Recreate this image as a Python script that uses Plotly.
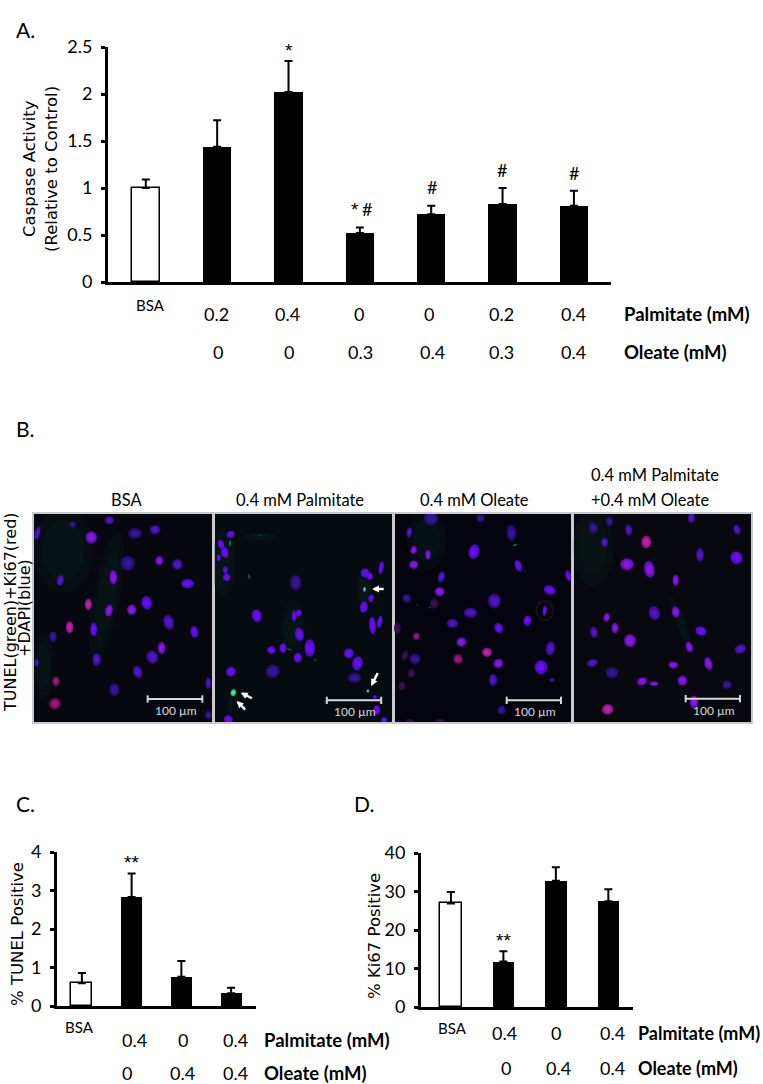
import math
import plotly.graph_objects as go

W, H = 763, 1084
NARROW = "Lato, Carlito, sans-serif"
WIDE = "DejaVu Sans, Verdana, sans-serif"
STAR = "Liberation Sans, Arial, sans-serif"

# ---------- data: panel A ----------
a_categories = ["BSA", "P0.2", "P0.4", "O0.3", "O0.4", "P0.2+O0.3", "P0.4+O0.4"]
a_values = [1.0, 1.44, 2.02, 0.52, 0.72, 0.83, 0.81]
a_err_top = [1.09, 1.72, 2.35, 0.58, 0.81, 1.0, 0.97]
a_palmitate = ["0.2", "0.4", "0", "0", "0.2", "0.4"]
a_oleate = ["0", "0", "0.3", "0.4", "0.3", "0.4"]
a_ticks = [0, 0.5, 1, 1.5, 2, 2.5]
a_ticktext = ["0", "0.5", "1", "1.5", "2", "2.5"]

# ---------- data: panel C ----------
c_categories = ["BSA", "P0.4", "O0.4", "P0.4+O0.4"]
c_values = [0.59, 2.83, 0.76, 0.33]
c_err_top = [0.86, 3.44, 1.17, 0.475]
c_palmitate = ["0.4", "0", "0.4"]
c_oleate = ["0", "0.4", "0.4"]
c_ticks = [0, 1, 2, 3, 4]

# ---------- data: panel D ----------
d_categories = ["BSA", "P0.4", "O0.4", "P0.4+O0.4"]
d_values = [26.9, 11.8, 32.8, 27.5]
d_err_top = [29.9, 14.5, 36.3, 30.6]
d_palmitate = ["0.4", "0", "0.4"]
d_oleate = ["0", "0.4", "0.4"]
d_ticks = [0, 10, 20, 30, 40]

# ---------- data: panel B nuclei (x, y, rx, ry, tilt, shade) ----------
nuclei_1 = [
    (22,70,8,20,15,"d"),(128,43,10,9,0,"k"),(238,31,13,11,0,"d"),(184,82,16,17,0,"p"),(315,70,19,15,0,"k"),
    (375,59,15,13,0,"d"),(293,160,20,21,0,"k"),(388,152,11,13,0,"p"),(442,163,15,15,0,"d"),(473,221,18,13,0,"v"),
    (91,211,10,16,15,"d"),(250,202,11,20,0,"p"),(175,283,10,16,0,"m"),(237,302,11,17,10,"p"),(305,299,13,15,0,"p"),
    (350,278,15,19,-10,"v"),(416,337,15,22,-15,"d"),(493,366,11,17,-10,"v"),(119,352,11,17,0,"m"),(191,358,10,19,0,"v"),
    (69,380,11,15,0,"k"),(395,414,11,17,0,"p"),(367,441,16,19,-25,"d"),(200,449,12,18,0,"d"),(20,458,6,12,0,"d"),
    (323,486,13,18,-20,"d"),(78,514,11,14,0,"r"),(253,539,14,18,0,"k"),(75,581,17,16,-20,"r"),(535,520,8,16,0,"d"),
    (535,615,10,12,0,"k"),
]
nuclei_2 = [
    (62,73,12,10,-20,"v"),(33,103,9,14,-20,"v"),(44,127,11,16,-15,"v"),(26,143,6,10,0,"v"),(46,180,7,10,0,"v"),
    (50,202,11,11,0,"v"),(257,218,16,22,0,"k"),(465,189,13,13,0,"v"),(479,199,9,11,0,"v"),(513,173,7,19,10,"v"),
    (483,265,8,11,15,"v"),(461,291,11,17,10,"v"),(140,317,14,18,-15,"v"),(252,318,7,16,0,"v"),(266,309,9,10,0,"v"),
    (487,346,10,25,-5,"v"),(509,335,7,18,10,"v"),(268,373,13,19,-10,"v"),(184,420,12,11,0,"v"),(219,414,10,14,0,"v"),
    (299,414,15,25,0,"v"),(263,443,12,14,0,"v"),(416,430,14,14,0,"v"),(442,460,15,20,10,"v"),(188,484,20,19,-30,"k"),
    (63,485,14,14,0,"v"),(433,504,19,14,0,"k"),(494,561,6,6,0,"v"),(500,600,10,14,0,"v"),(55,628,13,12,0,"v"),
    (522,630,9,8,0,"v"),
]
nuclei_3 = [
    (123,25,20,20,0,"k"),(272,25,12,12,0,"k"),(58,67,8,15,10,"d"),(364,68,14,22,-5,"k"),(71,120,9,12,15,"p"),
    (114,134,8,14,0,"p"),(252,125,15,21,15,"v"),(71,164,13,12,0,"p"),(385,167,10,17,-20,"v"),(154,201,10,16,15,"d"),
    (535,197,8,16,-15,"v"),(149,245,14,13,0,"p"),(479,240,17,13,20,"v"),(50,265,12,12,0,"k"),(313,273,18,20,0,"d"),
    (133,280,12,15,0,"x"),(241,308,19,14,0,"d"),(464,302,6,15,5,"v"),(412,332,11,15,10,"v"),(187,340,16,13,0,"d"),
    (326,354,12,15,-20,"v"),(22,355,10,17,0,"x"),(79,379,10,11,0,"r"),(214,396,14,13,0,"p"),(481,415,13,20,5,"d"),
    (291,427,14,13,0,"m"),(45,437,8,15,15,"x"),(75,447,16,15,0,"k"),(204,447,14,14,0,"r"),(325,460,14,13,-20,"p"),
    (453,472,18,20,0,"v"),(64,490,11,13,15,"x"),(309,510,12,17,0,"d"),(486,510,8,5,0,"d"),(36,528,11,13,0,"x"),
    (335,600,12,13,0,"k"),(60,632,12,5,0,"x"),(150,632,12,5,0,"x"),
]
nuclei_4 = [
    (70,54,13,16,-20,"k"),(118,34,10,14,0,"k"),(176,60,10,16,-5,"d"),(104,97,10,13,0,"d"),(364,24,10,14,10,"d"),
    (229,96,14,18,0,"m"),(501,59,10,15,-15,"d"),(390,134,11,19,0,"d"),(499,143,17,18,-15,"v"),(171,163,19,17,0,"p"),
    (238,178,15,24,-10,"p"),(317,211,9,16,0,"p"),(2,197,5,14,0,"p"),(253,309,16,20,-15,"d"),(317,306,11,16,-10,"p"),
    (110,322,9,13,10,"p"),(135,354,10,15,0,"p"),(72,367,11,16,-10,"d"),(180,392,17,18,0,"p"),(393,363,16,13,20,"v"),
    (358,411,10,16,-15,"p"),(511,417,17,13,-30,"d"),(67,459,16,11,-20,"d"),(415,461,11,19,-15,"p"),(310,465,14,10,0,"p"),
    (126,488,17,16,0,"k"),(216,514,15,11,-20,"p"),(252,521,13,7,0,"p"),(337,512,14,14,-20,"p"),(471,524,14,12,0,"k"),
    (372,576,12,18,0,"p"),(113,598,16,15,0,"m"),
]
tunel_2 = [  # green TUNEL signal in the palmitate field
    (70,548,8,10,15,"g"),(463,238,4,7,0,"c"),(473,543,4,5,0,"c"),(117,200,2,9,-10,"e"),(60,100,3,10,0,"e"),
    (150,75,10,1,0,"e"),(238,418,8,2,15,"e"),(315,450,2,4,0,"e"),
]
tunel_3 = [(80,284,2,2,0,"e"),(120,293,3,2,0,"e"),(375,105,8,3,-20,"e"),(407,185,2,2,0,"e")]
glow_1 = [(100,120,90,130,0),(230,260,40,200,10),(40,470,30,100,0)]
glow_2 = [(40,160,35,100,0),(60,590,8,40,5),(463,240,22,60,0),(250,350,35,80,0),(150,80,50,14,0)]
glow_3 = [(110,90,60,90,0)]
glow_4 = [(70,110,60,120,0),(330,330,15,80,-20)]
panel_nuclei = [nuclei_1, nuclei_2 + tunel_2, nuclei_3 + tunel_3, nuclei_4]
panel_glow = [glow_1, glow_2, glow_3, glow_4]
panel_titles = ["BSA", "0.4 mM Palmitate", "0.4 mM Oleate", "+0.4 mM Oleate"]
scale_text = "100 µm"

# ---------- styles and layout ----------
SHADES = {"v":"#5a0ce0","p":"#7210cf","m":"#9c1aa0","d":"#4010a8","k":"#2c1080","r":"#701068","x":"#2e1048",
          "g":"#10e080","c":"#18c8d0","e":"#0f6a30"}
CORES = {"v":"#7210ff","p":"#9a18f0","m":"#e0209c","d":"#5a18d8","k":"#3c18a8","r":"#c01878","x":"#481060",
         "g":"#50ffb0","c":"#60f0f0","e":"#128a40"}
PANEL_BG = ["#07080f", "#060b10", "#04040e", "#08080f"]

# pixel frame of each item: left, right, top, bottom
FRAME_A = (108, 611, 47, 282)
FRAME_C = (57, 256, 852, 1006)
FRAME_D = (421, 633, 853, 1007)
IMG = [(34,213,514,722,12,549),(214,392.5,514,722,12,547),(394,572,514,722,12,546),(573,751,514,722,9,543)]
SCALE = [(353,517,567,438,600),(350,513,571,435,603),(350,513,571,435,603),(347,510,566,432,600)]

fig = go.Figure()
ann = []
layout = {}
shapes = []


def px(x):
    return x / W


def py(y):
    return 1 - y / H


def text(s, x, y, size=17, anchor="center", font=NARROW, bold=False, angle=0, color="black"):
    ann.append(dict(text=f"<b>{s}</b>" if bold else s, x=px(x), y=py(y), xref="paper", yref="paper",
                    showarrow=False, xanchor=anchor, yanchor="middle", textangle=angle,
                    font=dict(family=font, size=size, color=color)))


def bar_panel(idx, frame, cats, vals, err_top, ticks, ticktext, halfspan, bar_w, err_w):
    name = "" if idx == 1 else str(idx)
    colors = ["white"] + ["black"] * (len(cats) - 1)
    widths = [1.5] + [0] * (len(cats) - 1)
    fig.add_trace(go.Bar(
        x=cats, y=vals, width=bar_w, xaxis=f"x{name}", yaxis=f"y{name}",
        marker=dict(color=colors, line=dict(color="black", width=widths)),
        error_y=dict(type="data", symmetric=False, array=[t - v for t, v in zip(err_top, vals)],
                     arrayminus=[0] * len(vals), color="black", thickness=2, width=err_w),
        hoverinfo="skip", showlegend=False))
    l, r, t, b = frame
    layout[f"xaxis{name}"] = dict(domain=[px(l), px(r)], anchor=f"y{name}", type="category", automargin=False,
                                  categoryorder="array", categoryarray=cats, range=halfspan,
                                  showgrid=False, showticklabels=False, ticks="", zeroline=False,
                                  showline=True, linecolor="black", linewidth=3, layer="above traces")
    layout[f"yaxis{name}"] = dict(domain=[py(b), py(t)], anchor=f"x{name}", range=[ticks[0], ticks[-1]], automargin=False,
                                  tickvals=ticks, ticktext=ticktext, showgrid=False, zeroline=False,
                                  showline=True, linecolor="black", linewidth=3, ticks="outside",
                                  ticklen=4, tickwidth=3, tickcolor="black", layer="above traces",
                                  ticklabelstandoff=5,
                                  tickfont=dict(family=NARROW, size=18, color="black"))


def row_labels(axis, cats, labels, y, shifts, size=18):
    for c, lab, sh in zip(cats, labels, shifts):
        ann.append(dict(text=lab, x=c, y=py(y), xref=axis, yref="paper", showarrow=False, xshift=sh,
                        xanchor="center", yanchor="middle", font=dict(family=NARROW, size=size, color="black")))


def mark(axis, cat, y, s, shift=0, size=18, font=NARROW):
    ann.append(dict(text=s, x=cat, y=py(y), xref=axis, yref="paper", showarrow=False, xshift=shift,
                    xanchor="center", yanchor="middle", font=dict(family=font, size=size, color="black")))


def ellipse(x, y, rx, ry, tilt, scale=1.0, n=28):
    a = math.radians(tilt)
    xs, ys = [], []
    for i in range(n + 1):
        th = 2 * math.pi * i / n
        ex, ey = scale * rx * math.cos(th), scale * ry * math.sin(th)
        xs.append(x + ex * math.cos(a) - ey * math.sin(a))
        ys.append(y + ex * math.sin(a) + ey * math.cos(a))
    return xs, ys


def blobs(items, xa, ya, color, scale=1.0, opacity=1.0):
    xs, ys = [], []
    for it in items:
        ex, ey = ellipse(it[0], it[1], it[2], it[3], it[4], scale)
        xs += ex + [None]
        ys += ey + [None]
    fig.add_trace(go.Scatter(x=xs, y=ys, xaxis=xa, yaxis=ya, mode="lines", fill="toself", fillcolor=color,
                             line=dict(width=0), opacity=opacity, hoverinfo="skip", showlegend=False))


# ---------- panel A ----------
bar_panel(1, FRAME_A, a_categories, a_values, a_err_top, a_ticks, a_ticktext, [-0.53, 6.52], 0.4, 4)
row_labels("x", a_categories[1:], a_palmitate, 314, [-1, -1, -1, -2, -1, 0])
row_labels("x", a_categories[1:], a_oleate, 352, [1, 0, 1, 1, -1, 0])
mark("x", "BSA", 305, "BSA", 5, 15)
mark("x", "P0.4", 50, "*", 0, 19, STAR)
mark("x", "O0.3", 209, "*", -5, 19, STAR)
mark("x", "O0.3", 209, "#", 7)
mark("x", "O0.4", 187, "#", 1)
mark("x", "P0.2+O0.3", 170, "#", -1)
mark("x", "P0.4+O0.4", 173, "#")
text("Palmitate (mM)", 622, 314, 18.5, bold=True, anchor="left")
text("Oleate (mM)", 622, 352, 18.5, bold=True, anchor="left")
text("Caspase Activity", 29, 169, 16.5, font=WIDE, angle=-90)
text("(Relative to Control)", 51, 169, 16.5, font=WIDE, angle=-90)
text("A.", 14, 30, 21, "left")

# ---------- panel C ----------
bar_panel(2, FRAME_C, c_categories, c_values, c_err_top, c_ticks, [str(t) for t in c_ticks], [-0.5, 3.5], 0.42, 4)
row_labels("x2", c_categories[1:], c_palmitate, 1040, [3, 2, 4])
row_labels("x2", c_categories[1:], c_oleate, 1073, [-5, 1, 4])
mark("x2", "BSA", 1027, "BSA", -2, 15)
mark("x2", "P0.4", 862, "**", 0, 19, STAR)
text("Palmitate (mM)", 262, 1040, 18.5, bold=True, anchor="left")
text("Oleate (mM)", 262, 1073, 18.5, bold=True, anchor="left")
text("% TUNEL Positive", 17, 934, 16.5, font=WIDE, angle=-90)
text("C.", 14, 803, 21, "left")

# ---------- panel D ----------
bar_panel(3, FRAME_D, d_categories, d_values, d_err_top, d_ticks, [str(t) for t in d_ticks], [-0.57, 3.47], 0.41, 4)
row_labels("x3", d_categories[1:], d_palmitate, 1033, [1, 0, 4])
row_labels("x3", d_categories[1:], d_oleate, 1068, [3, 3, 4])
mark("x3", "BSA", 1028, "BSA", 2, 15)
mark("x3", "P0.4", 940, "**", 0, 19, STAR)
text("Palmitate (mM)", 636, 1033, 18, bold=True, anchor="left")
text("Oleate (mM)", 636, 1068, 18, bold=True, anchor="left")
text("% Ki67 Positive", 374, 936, 16.5, font=WIDE, angle=-90)
text("D.", 352, 803, 21, "left")

# ---------- panel B ----------
for i, (frame, nuc, glow, sc) in enumerate(zip(IMG, panel_nuclei, panel_glow, SCALE)):
    n = i + 4
    xa, ya = f"x{n}", f"y{n}"
    l, r, t, b, z0, z1 = frame
    layout[f"xaxis{n}"] = dict(domain=[px(l), px(r)], anchor=ya, range=[z0, z1], visible=True, showgrid=False, automargin=False,
                               zeroline=False, showticklabels=False, ticks="", showline=True, mirror=True,
                               linecolor="#c9c9c9", linewidth=1.5, layer="above traces")
    layout[f"yaxis{n}"] = dict(domain=[py(b), py(t)], anchor=xa, range=[636, 12], showgrid=False, automargin=False,
                               zeroline=False, showticklabels=False, ticks="", showline=True, mirror=True,
                               linecolor="#c9c9c9", linewidth=1.5, layer="above traces")
    shapes.append(dict(type="rect", xref=f"{xa} domain", yref=f"{ya} domain", x0=0, x1=1, y0=0, y1=1,
                       fillcolor=PANEL_BG[i], line=dict(width=0), layer="below"))
    blobs(glow, xa, ya, "#0c2a24", 1.0, 0.18)
    blobs(glow, xa, ya, "#0c2a24", 0.7, 0.18)
    if i == 2:
        blobs([(464, 302, 28, 32, 0)], xa, ya, "#2a1410", 1.0, 0.7)
        blobs([(464, 302, 22, 26, 0)], xa, ya, PANEL_BG[i], 1.0, 1.0)
    for key in SHADES:
        group = [it for it in nuc if it[5] == key]
        if group:
            blobs(group, xa, ya, SHADES[key], 1.14, 0.3)
            blobs(group, xa, ya, SHADES[key], 1.0, 0.9)
            blobs(group, xa, ya, CORES[key], 0.62, 0.65)
    x0, x1, yb, tx, ty = sc
    fig.add_trace(go.Scatter(x=[x0, x1, None, x0, x0, None, x1, x1], y=[yb, yb, None, yb - 11, yb + 11, None, yb - 11, yb + 11],
                             xaxis=xa, yaxis=ya, mode="lines", line=dict(color="#d8d8d8", width=2),
                             hoverinfo="skip", showlegend=False))
    ann.append(dict(text=scale_text, x=tx, y=ty, xref=xa, yref=ya, showarrow=False, xanchor="center", yanchor="middle",
                    font=dict(family=NARROW, size=12, color="#d8d8d8")))

for hx, hy, sx, sy in [(486, 237, 525, 237), (92, 548, 130, 567), (80, 573, 110, 603), (483, 528, 505, 485)]:
    ann.append(dict(text="", x=hx, y=hy, ax=sx, ay=sy, xref="x5", yref="y5", axref="x5", ayref="y5", showarrow=True,
                    arrowhead=2, arrowsize=0.55, arrowwidth=2.5, arrowcolor="white", standoff=0))

text("BSA", 126, 500, 16.5)
text("0.4 mM Palmitate", 300, 500, 16.5)
text("0.4 mM Oleate", 474, 500, 16.5)
text("0.4 mM Palmitate", 589, 475, 16.5, "left")
text(panel_titles[3], 589, 500, 16.5, "left")
text("TUNEL(green)+Ki67(red)", 10, 612, 16, font=WIDE, angle=-90)
text("+DAPI(blue)", 24, 608, 16, font=WIDE, angle=-90)
text("B.", 14, 428, 21, "left")

fig.update_layout(width=W, height=H, margin=dict(l=0, r=0, t=0, b=0, pad=0), paper_bgcolor="white",
                  plot_bgcolor="white", showlegend=False, annotations=ann, shapes=shapes, bargap=0, **layout)
fig.write_html("out.html", config=dict(displayModeBar=False),
               post_script="document.body.style.margin='0';document.body.style.overflow='hidden';")
